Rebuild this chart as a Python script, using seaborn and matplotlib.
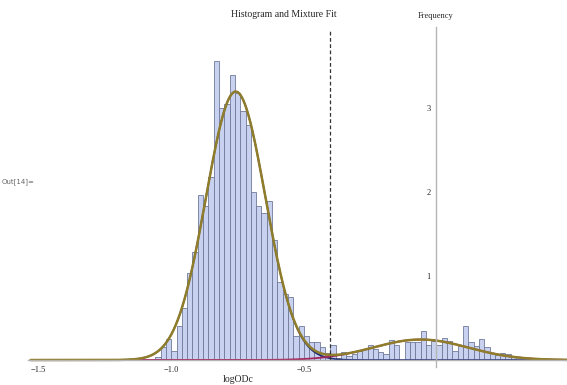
import numpy as np
import pandas as pd
import matplotlib
matplotlib.use('Agg')
import matplotlib.pyplot as plt
import seaborn as sns

# === Histogram (density, bin width 0.02), heights ===
bin_width = 0.02
heights_low = [0.04, 0.15, 0.25, 0.11, 0.40, 0.62, 1.03, 1.29, 1.96, 1.83, 2.18,
               3.56, 3.00, 3.04, 3.39, 3.17, 2.96, 2.79, 2.00, 1.83, 1.75, 1.89,
               1.43, 0.93, 0.79, 0.75, 0.29, 0.40, 0.29, 0.22, 0.22, 0.15, 0.08]
heights_high = [0.175, 0.03, 0.10, 0.05, 0.075, 0.11, 0.135, 0.175, 0.13, 0.09,
                0.07, 0.24, 0.175, 0.0, 0.21, 0.22, 0.22, 0.345, 0.175, 0.23,
                0.18, 0.26, 0.23, 0.11, 0.17, 0.40, 0.22, 0.17, 0.25, 0.15,
                0.08, 0.06, 0.08, 0.075, 0.04]
heights = heights_low + heights_high
first_bin = -1.06

# === Mixture fit (two normal components) ===
comp_means = [-0.757, -0.06]
comp_sds = [0.112, 0.18]
comp_weights = [0.896, 0.11]
threshold = -0.40

x_ticks = [-1.5, -1.0, -0.5]
x_ticklabels = ['\u22121.5', '\u22121.0', '\u22120.5']
y_ticks = [1, 2, 3]

sns.set_style('white')
plt.rcParams['font.family'] = ['Liberation Serif', 'DejaVu Serif']

fig = plt.figure(figsize=(5.67, 3.85), dpi=100)
ax = fig.add_axes([0.0494, 0.0605, 0.9506, 0.8694])

n_bins = len(heights)
bin_lefts = first_bin + bin_width * np.arange(n_bins)
edges = first_bin + bin_width * np.arange(n_bins + 1)
hist_df = pd.DataFrame({'x': bin_lefts + bin_width / 2, 'w': heights})
sns.histplot(data=hist_df, x='x', weights='w', bins=list(edges), stat='count',
             color='#c8d2f0', edgecolor='#707a98', linewidth=0.6, alpha=1, ax=ax)


def normal_pdf(x, m, s):
    return np.exp(-(x - m) ** 2 / (2 * s ** 2)) / (s * np.sqrt(2 * np.pi))


grid = np.linspace(-1.53, 0.5, 800)
comp1 = comp_weights[0] * normal_pdf(grid, comp_means[0], comp_sds[0])
comp2 = comp_weights[1] * normal_pdf(grid, comp_means[1], comp_sds[1])

sns.lineplot(x=grid, y=comp1, color='#1f2a70', lw=1.2, ax=ax)
sns.lineplot(x=grid, y=comp2, color='#a3245a', lw=1.3, ax=ax)
sns.lineplot(x=grid, y=comp1 + comp2, color='#8f7d2c', lw=1.8, ax=ax)

ax.vlines(threshold, 0, 3.93, colors='#333333', linestyles=(0, (3, 2)), lw=0.9)

ax.set_xlim(-1.54, 0.492)
ax.set_ylim(-0.02, 3.96)

# axes through the origin, Mathematica style
for side in ['top', 'right']:
    ax.spines[side].set_visible(False)
ax.spines['left'].set_position(('data', 0))
ax.spines['bottom'].set_position(('data', 0))
for side in ['left', 'bottom']:
    ax.spines[side].set_color('#b5b5b5')
    ax.spines[side].set_linewidth(1.0)
ax.spines['left'].set_bounds(-0.08, 3.96)
ax.spines['bottom'].set_bounds(-1.54, 0.492)

ax.set_xticks(x_ticks)
ax.set_xticklabels(x_ticklabels)
ax.set_xticks(np.round(np.arange(-1.5, 0.45, 0.1), 1), minor=True)
ax.set_yticks(y_ticks)
ax.set_yticks(np.round(np.arange(0.2, 3.9, 0.2), 1), minor=True)
ax.tick_params(which='major', direction='inout', length=4, width=0.6,
               color='#999999', labelsize=6, pad=2)
ax.tick_params(which='minor', direction='in', length=2, width=0.5, color='#aaaaaa')
ax.tick_params(axis='y', which='minor', direction='out')
ax.set_xlabel('')
ax.set_ylabel('')

fig.text(0.5, 0.962, 'Histogram and Mixture Fit', ha='center', va='center', fontsize=7)
fig.text(436 / 567, 1 - 16 / 385, 'Frequency', ha='center', va='center', fontsize=6)
fig.text(238 / 567, 1 - 379 / 385, 'logODc', ha='center', va='center', fontsize=7)
fig.text(2 / 567, 1 - 182 / 385, 'Out[14]=', ha='left', va='center', fontsize=5,
         color='#666666', family='DejaVu Sans')

fig.savefig('out.png', dpi=100)
